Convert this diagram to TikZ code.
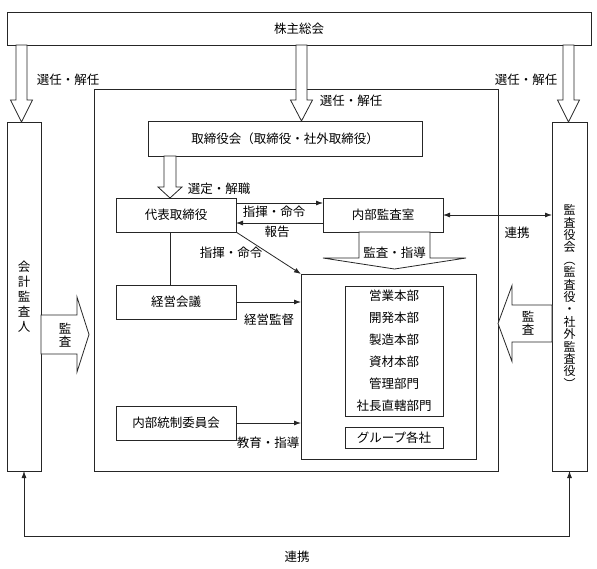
\documentclass[tikz,border=0pt]{standalone}
\usepackage{fontspec}
\setmainfont{Noto Sans CJK JP}
\usetikzlibrary{arrows.meta,calc,positioning}

% hollow block arrow: start, tip, shaft half width, head half width, head length
\newcommand{\hollowarrow}[5]{%
  \path ($(#2)!#5!(#1)$) coordinate (hb);
  \draw[hollow] ($(#1)!#3!90:(#2)$) -- ($(hb)!#3!90:(#2)$) -- ($(hb)!#4!90:(#2)$) -- (#2)
    -- ($(hb)!#4!-90:(#2)$) -- ($(hb)!#3!-90:(#2)$) -- ($(#1)!#3!-90:(#2)$) -- cycle;}

\begin{document}
\begin{tikzpicture}[x=1pt,y=-1pt,font=\fontsize{12.5}{15}\selectfont,
  every node/.style={inner sep=0pt,outer sep=0pt},
  box/.style={draw=black!85,line width=0.8pt,align=center},
  hollow/.style={draw=black!85,fill=white,line width=0.8pt},
  arr/.style={draw=black!85,line width=0.8pt,-{Latex[length=7pt,width=5pt]}},
  dbl/.style={draw=black!85,line width=0.8pt,{Latex[length=7pt,width=5pt]}-{Latex[length=7pt,width=5pt]}}]
\useasboundingbox (0,0) rectangle (597,568);

\node[box,minimum width=404pt,minimum height=382pt] (frame) at (296,280) {};

\node[box,minimum width=584pt,minimum height=33pt] (top) at (299,28.5) {株主総会};
\node[box,minimum width=34pt,minimum height=349pt] (kaikei) at (24,296.5) {会\\計\\監\\査\\人};
\node[box,minimum width=35pt,minimum height=349pt,font=\fontsize{12}{12.4}\selectfont] (kansa) at (569.5,296.5)
  {監\\査\\役\\会\\︵\\監\\査\\役\\・\\社\\外\\監\\査\\役\\︶};
\node[box,minimum width=274pt,minimum height=35pt] (torishimari) at (285,138.5) {取締役会（取締役・社外取締役）};
\node[box,minimum width=120pt,minimum height=34pt] (daihyo) at (176,215) {代表取締役};
\node[box,minimum width=120pt,minimum height=34pt] (naibu) at (383,215) {内部監査室};
\node[box,minimum width=120pt,minimum height=34pt] (keiei) at (176,302) {経営会議};
\node[box,minimum width=120pt,minimum height=34pt] (tosei) at (176,423) {内部統制委員会};
\node[box,minimum width=175pt,minimum height=185pt] (jigyo) at (388.5,366.5) {};
\node[box,minimum width=98pt,minimum height=130pt,font=\fontsize{12.5}{22}\selectfont] (honbu) at (394,351)
  {営業本部\\開発本部\\製造本部\\資材本部\\管理部門\\社長直轄部門};
\node[box,minimum width=98pt,minimum height=21pt] (group) at (394,437.5) {グループ各社};

% block arrows
\coordinate (t1) at ([xshift=-2.5pt]kaikei.north);
\coordinate (s1) at (top.south -| t1);
\coordinate (t2) at ([xshift=16.5pt]torishimari.north);
\coordinate (s2) at (top.south -| t2);
\coordinate (t3) at ([xshift=-1pt]kansa.north);
\coordinate (s3) at (top.south -| t3);
\coordinate (t4) at ([xshift=-6pt]daihyo.north);
\coordinate (s4) at (torishimari.south -| t4);
\coordinate (s5) at ([xshift=11.5pt]naibu.south);
\coordinate (t5) at ([yshift=5pt]jigyo.north -| s5);
\coordinate (s6) at ([yshift=-38pt]kaikei.east);
\coordinate (t6) at ($(s6)+(48,0)$);
\coordinate (s7) at ([yshift=-27pt]kansa.west);
\coordinate (t7) at (frame.east |- s7);
\hollowarrow{s1}{t1}{5.5pt}{11pt}{22pt}
\hollowarrow{s2}{t2}{5.5pt}{11pt}{21pt}
\hollowarrow{s3}{t3}{5.5pt}{11pt}{22pt}
\hollowarrow{s4}{t4}{6pt}{12pt}{11pt}
\hollowarrow{s5}{t5}{35.5pt}{71.5pt}{11pt}
\hollowarrow{s6}{t6}{19.5pt}{37.5pt}{12pt}
\hollowarrow{s7}{t7}{18.5pt}{38pt}{14pt}

% connectors
\draw[arr] ([yshift=12pt]daihyo.east) -- ([yshift=12pt]naibu.west);
\draw[arr] ([yshift=-8pt]naibu.west) -- ([yshift=-8pt]daihyo.east);
\draw[arr] (daihyo.south east) -- (jigyo.north west);
\draw[draw=black!85,line width=0.8pt] ([xshift=-6pt]daihyo.south) -- ([xshift=-6pt]keiei.north);
\draw[arr] (keiei.east) -- (keiei.east -| jigyo.west);
\draw[arr] (tosei.east) -- (tosei.east -| jigyo.west);
\draw[dbl] (naibu.east) -- (naibu.east -| kansa.west);
\draw[dbl] (kaikei.south) -- ++(0,65) -| (kansa.south);

% labels
\node (sn1) at (68,80) {選任・解任};
\node (sn2) at (351,101) {選任・解任};
\node (sn3) at (526,80) {選任・解任};
\node (sk) at (219,189) {選定・解職};
\node (sk1) at (274,212) {指揮・命令};
\node (hk) at (277,232) {報告};
\node (sk2) at (231,253) {指揮・命令};
\node (kk) at (269,320) {経営監督};
\node (kks) at (268,443) {教育・指導};
\node (ks) at (394.5,253) {監査・指導};
\node[align=center,font=\fontsize{12.5}{13}\selectfont] (ka1) at (65,335) {監\\査};
\node[align=center,font=\fontsize{12.5}{13}\selectfont] (ka2) at (528,323.5) {監\\査};
\node (rk1) at (517,233) {連携};
\node (rk2) at (297,557) {連携};
\end{tikzpicture}
\end{document}
